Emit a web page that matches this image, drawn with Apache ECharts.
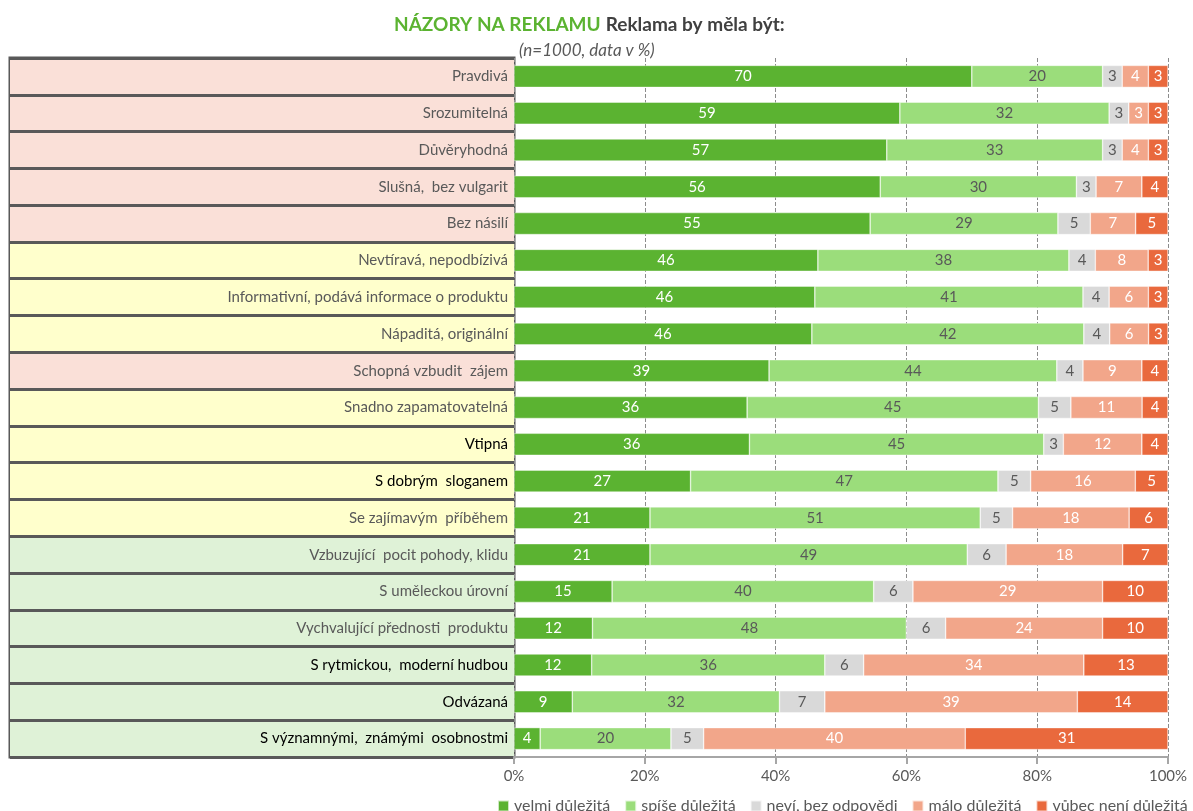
<!DOCTYPE html>
<html>
<head>
<meta charset="utf-8">
<script src="https://cdn.jsdelivr.net/npm/echarts@6/dist/echarts.min.js"></script>
<style>
html,body{margin:0;padding:0;background:#fff;}
#chart{width:1193px;height:811px;}
</style>
</head>
<body>
<div id="chart"></div>
<script>
// kategorie shora dolů
var categories = [
	"Pravdivá","Srozumitelná","Důvěryhodná","Slušná,  bez vulgarit","Bez násilí",
	"Nevtíravá, nepodbízivá","Informativní, podává informace o produktu","Nápaditá, originální",
	"Schopná vzbudit  zájem","Snadno zapamatovatelná","Vtipná","S dobrým  sloganem",
	"Se zajímavým  příběhem","Vzbuzující  pocit pohody, klidu","S uměleckou úrovní",
	"Vychvalující přednosti  produktu","S rytmickou,  moderní hudbou","Odvázaná",
	"S významnými,  známými  osobnostmi"
];
var seriesNames = ["velmi důležitá","spíše důležitá","neví, bez odpovědi","málo důležitá","vůbec není důležitá"];
var velmi = [70,59,57,56,55,46,46,46,39,36,36,27,21,21,15,12,12,9,4];
var spise = [20,32,33,30,29,38,41,42,44,45,45,47,51,49,40,48,36,32,20];
var nevi  = [3,3,3,3,5,4,4,4,4,5,3,5,5,6,6,6,6,7,5];
var malo  = [4,3,4,7,7,8,6,6,9,11,12,16,18,18,29,24,34,39,40];
var vubec = [3,3,3,4,5,3,3,3,4,4,4,5,6,7,10,10,13,14,31];
// barva rámečku popisku: r = růžová, y = žlutá, g = zelená
var labelGroup = ["r","r","r","r","r","y","y","y","r","y","y","y","y","g","g","g","g","g","g"];
var labelDark = [10,11,16,17,18];
var xTicks = [0,20,40,60,80,100];

var groupColor = {r:"#FAE0D8", y:"#FFFFCC", g:"#DFF2D7"};
var colors = ["#5BB331","#9BDD7B","#D9D9D9","#F2A68A","#E9693D"];
var labelColors = ["#ffffff","#595959","#595959","#ffffff","#ffffff"];
var raw = [velmi,spise,nevi,malo,vubec];
var FONT = "Lato, 'Open Sans', sans-serif";

// 100% skládaný graf: podíl v řádku, popisek ukazuje původní hodnotu
var sums = categories.map(function(c,i){
	var s=0;
	for(var k=0;k<raw.length;k++){ s+=raw[k][i]; }
	return s;
});
var series = [];
for(var k=0;k<raw.length;k++){
	(function(k){
		series.push({
			name: seriesNames[k],
			type: "bar",
			stack: "total",
			barWidth: 22,
			xAxisIndex: 0,
			yAxisIndex: 0,
			itemStyle: {color: colors[k], borderColor: "rgba(255,255,255,0.7)", borderWidth: 0.6},
			label: {
				show: true,
				position: "inside",
				color: labelColors[k],
				fontFamily: FONT,
				fontSize: 15,
				formatter: function(p){ return raw[k][p.dataIndex]; }
			},
			data: raw[k].map(function(v,i){ return v/sums[i]*100; })
		});
	})(k);
}

var myChart = echarts.init(document.getElementById("chart"));
myChart.setOption({
	animation: false,
	title: [{
		text: "{a|NÁZORY NA REKLAMU} {b|Reklama by měla být:}",
		left: 389,
		top: 10,
		textStyle: {
			rich: {
				a: {color: "#5BB331", fontWeight: "bold", fontSize: 19, fontFamily: FONT},
				b: {color: "#404040", fontWeight: "bold", fontSize: 19, fontFamily: FONT}
			}
		}
	},{
		text: "(n=1000, data v %)",
		left: 514,
		top: 37,
		textStyle: {color: "#595959", fontStyle: "italic", fontWeight: "normal", fontSize: 17, fontFamily: FONT}
	}],
	legend: {
		data: seriesNames,
		left: 492,
		top: 793,
		width: 1000,
		itemWidth: 11,
		itemHeight: 11,
		itemGap: 14,
		icon: "rect",
		textStyle: {color: "#595959", fontSize: 16, fontFamily: FONT}
	},
	grid: [{
		left: 514, right: 25, top: 58, bottom: 54
	},{
		left: 10, right: 679, top: 58, bottom: 54,
		show: true, borderColor: "#595959", borderWidth: 3, backgroundColor: "transparent"
	}],
	xAxis: [{
		type: "value",
		gridIndex: 0,
		min: 0, max: 100, interval: 20,
		axisLine: {show: true, lineStyle: {color: "#A6A6A6", width: 2}},
		axisTick: {show: true, length: 7, lineStyle: {color: "#A6A6A6", width: 2}},
		axisLabel: {
			color: "#595959", fontSize: 15, fontFamily: FONT, margin: 12,
			formatter: function(v){ return xTicks.indexOf(v)>=0 ? v+"%" : ""; }
		},
		splitLine: {show: true, lineStyle: {color: "#8C8C8C", type: "dashed", width: 1}}
	},{
		type: "value",
		gridIndex: 1,
		min: 0, max: 1,
		show: false
	}],
	yAxis: [{
		type: "category",
		gridIndex: 0,
		inverse: true,
		data: categories,
		z: 10,
		axisLine: {show: false},
		axisTick: {show: false},
		axisLabel: {
			margin: 6,
			fontSize: 15,
			fontFamily: FONT,
			color: function(v,i){ return labelDark.indexOf(i)>=0 ? "#000000" : "#595959"; }
		}
	},{
		type: "category",
		gridIndex: 1,
		inverse: true,
		data: categories,
		axisLine: {show: false},
		axisTick: {show: false},
		axisLabel: {show: false},
		splitLine: {show: true, lineStyle: {color: "#595959", width: 3}},
		splitArea: {show: true, areaStyle: {color: labelGroup.map(function(g){ return groupColor[g]; })}}
	}],
	series: series
});
</script>
</body>
</html>
